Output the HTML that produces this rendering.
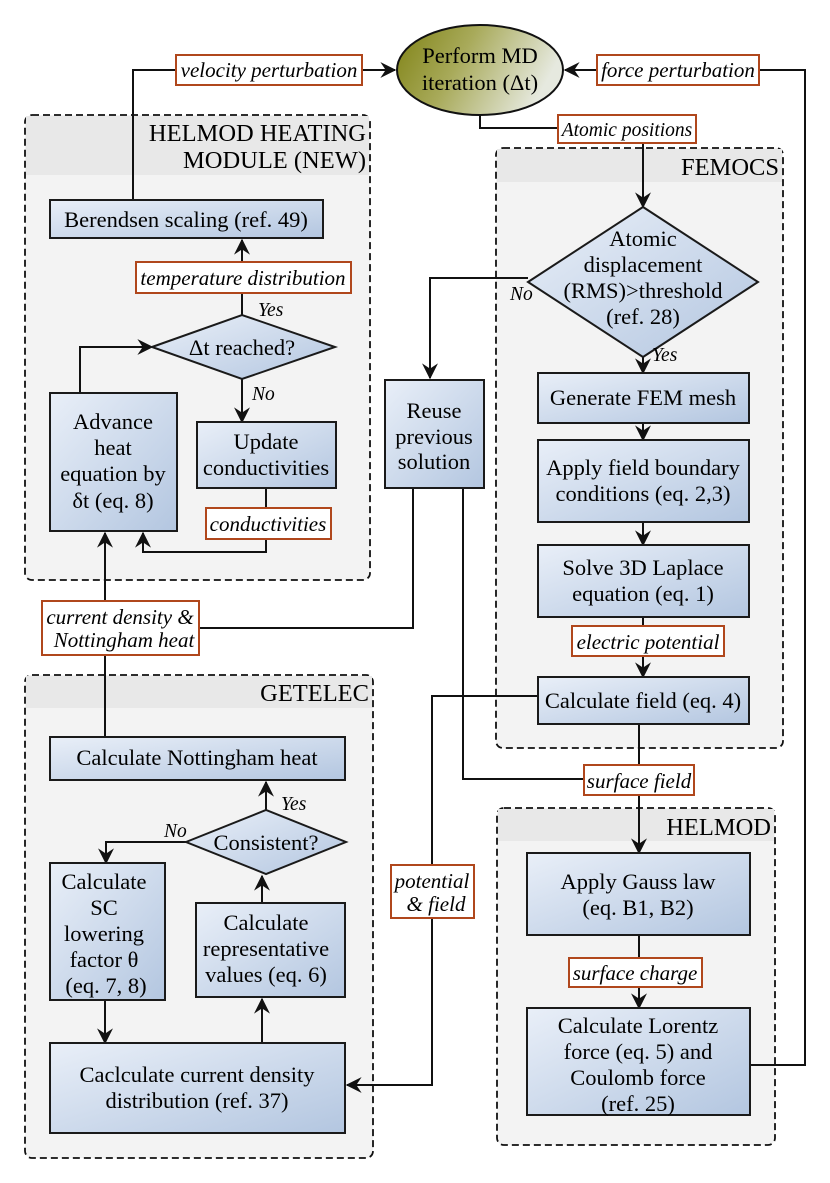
<!DOCTYPE html>
<html><head><meta charset="utf-8"><style>
html,body{margin:0;padding:0;background:#fff;}
svg{display:block;}
text{font-family:"Liberation Serif",serif;font-size:22.5px;fill:#000;}
.i{font-style:italic;font-size:21px;}
.y{font-style:italic;font-size:19.5px;}
.t{font-size:24.5px;}
.b{fill:url(#g);stroke:#1a1a1a;stroke-width:2;}
.l{fill:#fff;stroke:#b0471c;stroke-width:2;}
.w{fill:none;stroke:#111;stroke-width:2;}
.grp{fill:#f3f3f3;stroke:#111;stroke-width:1.8;stroke-dasharray:7,4;}
</style></head><body>
<svg width="830" height="1183" viewBox="0 0 830 1183" xmlns="http://www.w3.org/2000/svg">
<defs>
<linearGradient id="g" x1="0" y1="0" x2="1" y2="1"><stop offset="0" stop-color="#e9eff8"/><stop offset="1" stop-color="#b3c6e0"/></linearGradient>
<linearGradient id="eg" x1="0" y1="0" x2="1" y2="0.3"><stop offset="0" stop-color="#7f8214"/><stop offset="0.45" stop-color="#a8aa5a"/><stop offset="1" stop-color="#e6e9df"/></linearGradient>
<marker id="a" viewBox="0 0 12 12" refX="11" refY="6" markerWidth="16" markerHeight="16" markerUnits="userSpaceOnUse" orient="auto"><path d="M0,0 L12,6 L0,12 L4,6 z" fill="#111"/></marker>
</defs>

<rect class="grp" x="25" y="115" width="345" height="465" rx="7"/>
<rect x="26" y="116" width="343" height="59" fill="#e8e8e8"/>
<rect class="grp" x="496" y="148" width="287" height="600" rx="7"/>
<rect x="497" y="149" width="285" height="33" fill="#e8e8e8"/>
<rect class="grp" x="25" y="675" width="348" height="483" rx="7"/>
<rect x="26" y="676" width="346" height="32" fill="#e8e8e8"/>
<rect class="grp" x="497" y="808" width="278" height="337" rx="7"/>
<rect x="498" y="809" width="276" height="32" fill="#e8e8e8"/>
<text class="t" x="366" y="141" text-anchor="end">HELMOD HEATING</text>
<text class="t" x="366" y="168" text-anchor="end">MODULE (NEW)</text>
<text class="t" x="779" y="175" text-anchor="end">FEMOCS</text>
<text class="t" x="369" y="701" text-anchor="end">GETELEC</text>
<text class="t" x="771" y="835" text-anchor="end">HELMOD</text>

<path class="w" d="M133,200 V70 H395" marker-end="url(#a)"/>
<path class="w" d="M750,1065 H805 V70 H565" marker-end="url(#a)"/>
<path class="w" d="M480,115 V128 H560"/>
<path class="w" d="M643,140 V207" marker-end="url(#a)"/>
<path class="w" d="M242,315 V240" marker-end="url(#a)"/>
<path class="w" d="M242,379 V422" marker-end="url(#a)"/>
<path class="w" d="M80,393 V347 H152" marker-end="url(#a)"/>
<path class="w" d="M266,488 V552 H143 V533" marker-end="url(#a)"/>
<path class="w" d="M105,737 V533" marker-end="url(#a)"/>
<path class="w" d="M413,488 V628 H199"/>
<path class="w" d="M528,278 H430 V378" marker-end="url(#a)"/>
<path class="w" d="M643,357 V373" marker-end="url(#a)"/>
<path class="w" d="M643,423 V440" marker-end="url(#a)"/>
<path class="w" d="M643,522 V545" marker-end="url(#a)"/>
<path class="w" d="M643,617 V677" marker-end="url(#a)"/>
<path class="w" d="M639,724 V853" marker-end="url(#a)"/>
<path class="w" d="M463,488 V779 H590"/>
<path class="w" d="M538,696 H432 V1085 H347" marker-end="url(#a)"/>
<path class="w" d="M639,935 V1008" marker-end="url(#a)"/>
<path class="w" d="M266,810 V782" marker-end="url(#a)"/>
<path class="w" d="M186,842 H106 V863" marker-end="url(#a)"/>
<path class="w" d="M262,903 V876" marker-end="url(#a)"/>
<path class="w" d="M105,1000 V1043" marker-end="url(#a)"/>
<path class="w" d="M262,1043 V999" marker-end="url(#a)"/>

<ellipse cx="480" cy="70" rx="83" ry="45" fill="url(#eg)" stroke="#111" stroke-width="2"/>
<text x="480" y="63" text-anchor="middle">Perform MD</text>
<text x="480" y="90" text-anchor="middle">iteration (Δt)</text>

<rect class="l" x="176" y="55" width="186" height="30"/><text class="i" x="269" y="77" text-anchor="middle">velocity perturbation</text>
<rect class="l" x="597" y="55" width="162" height="30"/><text class="i" x="678" y="77" text-anchor="middle">force perturbation</text>
<rect class="l" x="558" y="115" width="138" height="28"/><text class="i" x="627" y="136" text-anchor="middle" style="font-size:19.5px">Atomic positions</text>
<rect class="l" x="136" y="262" width="215" height="31"/><text class="i" x="243" y="285" text-anchor="middle">temperature distribution</text>
<rect class="l" x="206" y="508" width="125" height="31"/><text class="i" x="268" y="531" text-anchor="middle">conductivities</text>
<rect class="l" x="42" y="601" width="157" height="54"/><text class="i" x="120" y="624" text-anchor="middle">current density &amp;</text><text class="i" x="124" y="647" text-anchor="middle">Nottingham heat</text>
<rect class="l" x="572" y="626" width="152" height="30"/><text class="i" x="648" y="649" text-anchor="middle">electric potential</text>
<rect class="l" x="584" y="765" width="110" height="30"/><text class="i" x="639" y="788" text-anchor="middle">surface field</text>
<rect class="l" x="391" y="865" width="83" height="53"/><text class="i" x="432" y="888" text-anchor="middle">potential</text><text class="i" x="436" y="911" text-anchor="middle">&amp; field</text>
<rect class="l" x="569" y="958" width="133" height="29"/><text class="i" x="635" y="980" text-anchor="middle">surface charge</text>

<rect class="b" x="50" y="200" width="273" height="38"/><text x="186" y="227" text-anchor="middle">Berendsen scaling (ref. 49)</text>
<polygon class="b" points="152,347 242,315 335,347 242,379"/><text x="242" y="355" text-anchor="middle">Δt reached?</text>
<text class="y" x="258" y="316">Yes</text><text class="y" x="252" y="400">No</text>
<rect class="b" x="50" y="393" width="127" height="138"/>
<text x="113" y="429" text-anchor="middle">Advance</text><text x="113" y="455" text-anchor="middle">heat</text><text x="113" y="481" text-anchor="middle">equation by</text><text x="113" y="508" text-anchor="middle">δt (eq. 8)</text>
<rect class="b" x="197" y="422" width="139" height="66"/><text x="266" y="449" text-anchor="middle">Update</text><text x="266" y="475" text-anchor="middle">conductivities</text>
<rect class="b" x="385" y="380" width="99" height="108"/><text x="434" y="418" text-anchor="middle">Reuse</text><text x="434" y="444" text-anchor="middle">previous</text><text x="434" y="469" text-anchor="middle">solution</text>

<polygon class="b" points="528,282 643,207 758,282 643,357"/>
<text x="643" y="246" text-anchor="middle">Atomic</text><text x="643" y="272" text-anchor="middle">displacement</text><text x="643" y="298" text-anchor="middle">(RMS)&gt;threshold</text><text x="643" y="324" text-anchor="middle">(ref. 28)</text>
<text class="y" x="510" y="300">No</text><text class="y" x="652" y="361">Yes</text>
<rect class="b" x="538" y="373" width="211" height="50"/><text x="643" y="405" text-anchor="middle">Generate FEM mesh</text>
<rect class="b" x="538" y="440" width="211" height="82"/><text x="643" y="475" text-anchor="middle">Apply field boundary</text><text x="643" y="501" text-anchor="middle">conditions (eq. 2,3)</text>
<rect class="b" x="538" y="545" width="211" height="72"/><text x="643" y="575" text-anchor="middle">Solve 3D Laplace</text><text x="643" y="601" text-anchor="middle">equation (eq. 1)</text>
<rect class="b" x="538" y="677" width="211" height="47"/><text x="643" y="708" text-anchor="middle">Calculate field (eq. 4)</text>

<rect class="b" x="50" y="737" width="295" height="43"/><text x="197" y="765" text-anchor="middle">Calculate Nottingham heat</text>
<polygon class="b" points="186,842 266,810 346,842 266,874"/><text x="266" y="850" text-anchor="middle">Consistent?</text>
<text class="y" x="281" y="810">Yes</text><text class="y" x="164" y="837">No</text>
<rect class="b" x="50" y="863" width="115" height="137"/>
<text x="104" y="889" text-anchor="middle">Calculate</text><text x="104" y="915" text-anchor="middle">SC</text><text x="104" y="941" text-anchor="middle">lowering</text><text x="104" y="967" text-anchor="middle">factor θ</text><text x="106" y="993" text-anchor="middle">(eq. 7, 8)</text>
<rect class="b" x="196" y="903" width="149" height="94"/><text x="266" y="930" text-anchor="middle">Calculate</text><text x="266" y="956" text-anchor="middle">representative</text><text x="266" y="982" text-anchor="middle">values (eq. 6)</text>
<rect class="b" x="50" y="1043" width="295" height="90"/><text x="197" y="1082" text-anchor="middle">Caclculate current density</text><text x="197" y="1108" text-anchor="middle">distribution (ref. 37)</text>

<rect class="b" x="527" y="853" width="223" height="82"/><text x="638" y="889" text-anchor="middle">Apply Gauss law</text><text x="638" y="915" text-anchor="middle">(eq. B1, B2)</text>
<rect class="b" x="527" y="1008" width="223" height="107"/><text x="638" y="1033" text-anchor="middle">Calculate Lorentz</text><text x="638" y="1059" text-anchor="middle">force (eq. 5) and</text><text x="638" y="1085" text-anchor="middle">Coulomb force</text><text x="638" y="1111" text-anchor="middle">(ref. 25)</text>
</svg>
</body></html>
